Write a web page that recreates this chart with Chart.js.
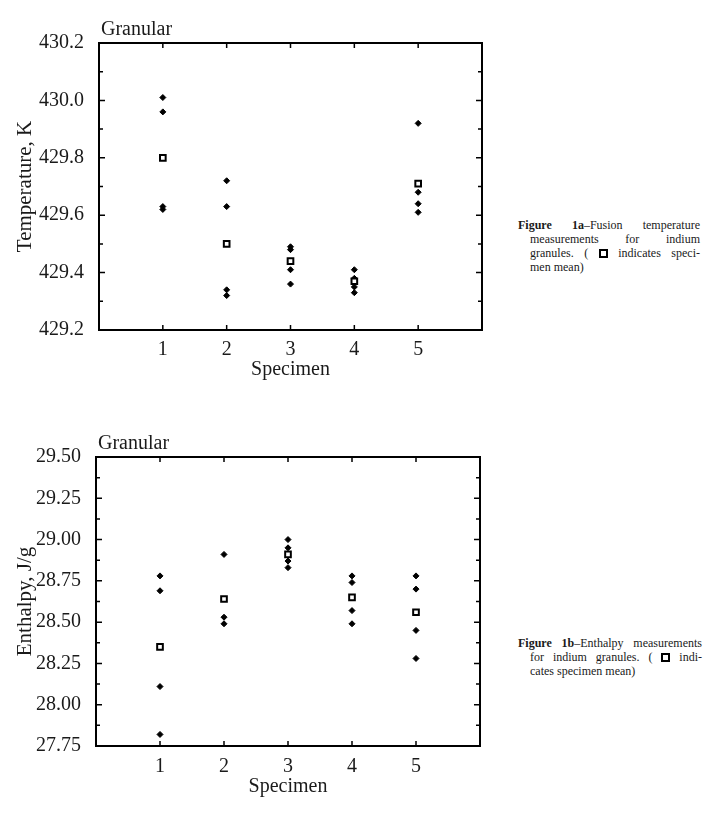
<!DOCTYPE html>
<html>
<head>
<meta charset="utf-8">
<title>Indium granules - fusion temperature and enthalpy</title>
<script src="https://cdn.jsdelivr.net/npm/chart.js@4.4.1/dist/chart.umd.min.js"></script>
<style>
  body { margin: 0; background: #fff; width: 720px; height: 834px; position: relative; overflow: hidden;
         font-family: "Liberation Serif", "DejaVu Serif", serif; color: #1a1a1a; }
  canvas { position: absolute; left: 0; }
  #figA { top: 0; }
  #figB { top: 420px; }
  .cap { position: absolute; left: 518px; width: 182px; font-size: 12px; line-height: 14px; }
  .cap .l { text-align: justify; text-align-last: justify; padding-left: 12px; white-space: nowrap; }
  .cap .first { padding-left: 0; }
  .cap .last { text-align-last: left; }
  .box { display: inline-block; width: 5px; height: 5px; border: 2px solid #000; vertical-align: -1px; }
</style>
</head>
<body>
<canvas id="figA" width="500" height="400"></canvas>
<canvas id="figB" width="500" height="400"></canvas>

<div class="cap" style="top:218px">
  <div class="l first"><b>Figure 1a</b>–Fusion temperature</div>
  <div class="l">measurements for indium</div>
  <div class="l">granules. ( <span class="box"></span> indicates speci-</div>
  <div class="l last">men mean)</div>
</div>
<div class="cap" style="top:636px; width:184px">
  <div class="l first"><b>Figure 1b</b>–Enthalpy measurements</div>
  <div class="l">for indium granules. ( <span class="box"></span> indi-</div>
  <div class="l last">cates specimen mean)</div>
</div>

<script>
const specimens = [1, 2, 3, 4, 5];

// Fig 1a - fusion temperature, K (four runs per specimen)
const tempRuns = [
  [430.01, 429.96, 429.63, 429.62],
  [429.72, 429.63, 429.34, 429.32],
  [429.49, 429.48, 429.41, 429.36],
  [429.41, 429.38, 429.35, 429.33],
  [429.92, 429.68, 429.64, 429.61]
];
const tempMeans = [429.80, 429.50, 429.44, 429.37, 429.71];

// Fig 1b - enthalpy, J/g
const enthRuns = [
  [28.78, 28.69, 28.11, 27.82],
  [28.91, 28.64, 28.53, 28.49],
  [29.00, 28.95, 28.87, 28.83],
  [28.78, 28.74, 28.57, 28.49],
  [28.78, 28.70, 28.45, 28.28]
];
const enthMeans = [28.35, 28.64, 28.91, 28.65, 28.56];

const ink = '#1a1a1a';
const serif = '"Liberation Serif", serif';

function runPoints(runs) {
  const pts = [];
  runs.forEach((vals, i) => {
    vals.forEach(v => pts.push({ x: specimens[i], y: v }));
  });
  return pts;
}

function meanPoints(means) {
  return means.map((v, i) => ({ x: specimens[i], y: v }));
}

//frame with inward ticks + panel label
const framePlugin = {
  id: 'frame',
  afterDraw(chart, args, opts) {
    const { ctx, chartArea: a } = chart;
    const x = chart.scales.x;
    const y = chart.scales.y;
    ctx.save();
    ctx.strokeStyle = '#000';
    ctx.lineWidth = 2;
    ctx.strokeRect(a.left, a.top, a.right - a.left, a.bottom - a.top);

    ctx.lineWidth = 1.5;
    ctx.beginPath();
    y.ticks.forEach(t => {
      const py = y.getPixelForValue(t.value);
      const len = t.label ? 6 : 4;
      ctx.moveTo(a.left, py); ctx.lineTo(a.left + len, py);
      ctx.moveTo(a.right, py); ctx.lineTo(a.right - len, py);
    });
    x.ticks.forEach(t => {
      if (!t.label) return;
      const px = x.getPixelForValue(t.value);
      ctx.moveTo(px, a.bottom); ctx.lineTo(px, a.bottom - 5);
      ctx.moveTo(px, a.top); ctx.lineTo(px, a.top + 5);
    });
    ctx.stroke();

    ctx.fillStyle = ink;
    ctx.font = '20px ' + serif;
    ctx.textBaseline = 'alphabetic';
    ctx.textAlign = 'left';
    ctx.fillText(opts.text, a.left + 2, a.top - 8);
    ctx.restore();
  }
};

function makeChart(id, runs, means, yOpts, box) {
  const canvasH = 400;
  const ctx = document.getElementById(id).getContext('2d');
  return new Chart(ctx, {
    type: 'scatter',
    data: {
      datasets: [
        {
          label: 'Specimen mean',
          data: meanPoints(means),
          pointStyle: 'rect',
          pointRadius: 4,
          backgroundColor: '#fff',
          borderColor: '#000',
          borderWidth: 2
        },
        {
          label: 'Measurement',
          data: runPoints(runs),
          pointStyle: 'rectRot',
          pointRadius: 3,
          backgroundColor: '#000',
          borderColor: '#000',
          borderWidth: 1
        }
      ]
    },
    options: {
      responsive: false,
      animation: false,
      events: [],
      layout: {
        padding: { left: 0, right: 500 - box.right, top: box.top, bottom: 0 }
      },
      plugins: {
        legend: { display: false },
        tooltip: { enabled: false },
        frame: { text: 'Granular' }
      },
      scales: {
        x: {
          type: 'linear',
          min: 0,
          max: 6,
          grid: { display: false },
          border: { display: false },
          ticks: {
            stepSize: 1,
            autoSkip: false,
            maxRotation: 0,
            padding: box.xTickPad,
            color: ink,
            font: { family: serif, size: 20 },
            callback: v => (v >= 1 && v <= 5) ? String(v) : ''
          },
          title: {
            display: true,
            text: 'Specimen',
            color: ink,
            font: { family: serif, size: 20 },
            padding: { top: 0, bottom: box.xTitlePad }
          },
          afterFit: s => { s.height = canvasH - box.bottom; }
        },
        y: {
          type: 'linear',
          min: yOpts.min,
          max: yOpts.max,
          grid: { display: false },
          border: { display: false },
          ticks: {
            stepSize: yOpts.step,
            autoSkip: false,
            padding: 7,
            color: ink,
            font: { family: serif, size: 20 },
            callback: v => yOpts.isMajor(v) ? v.toFixed(yOpts.digits) : ''
          },
          title: {
            display: true,
            text: yOpts.title,
            color: ink,
            font: { family: serif, size: 21 },
            padding: { top: 13, bottom: 0 }
          },
          afterFit: s => { s.width = box.left; }
        }
      }
    },
    plugins: [framePlugin]
  });
}

Chart.defaults.font.family = serif;

makeChart('figA', tempRuns, tempMeans, {
  min: 429.2, max: 430.2, step: 0.1, digits: 1,
  title: 'Temperature, K',
  isMajor: v => Math.round(v * 10) % 2 === 0
}, { left: 99, right: 482, top: 43, bottom: 330, xTickPad: 0, xTitlePad: 18 });

makeChart('figB', enthRuns, enthMeans, {
  min: 27.75, max: 29.5, step: 0.125, digits: 2,
  title: 'Enthalpy, J/g',
  isMajor: v => Math.round(v * 8) % 2 === 0
}, { left: 96, right: 480, top: 37, bottom: 326, xTickPad: 1, xTitlePad: 21 });
</script>
</body>
</html>
